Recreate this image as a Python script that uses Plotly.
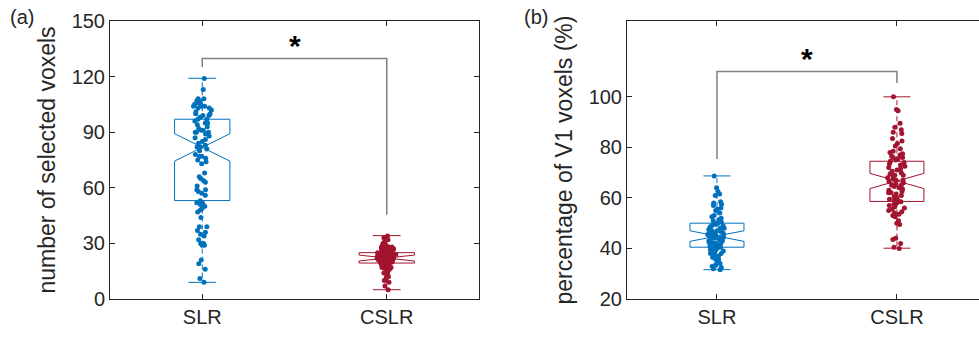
import plotly.graph_objects as go

categories = ["SLR", "CSLR"]
cat_pos = [1, 2]

# ---- panel (a): number of selected voxels ----
a_slr = [119, 113,
         108, 108, 107, 107, 106, 106, 105, 105, 104, 104, 104, 103, 103, 102, 101, 100, 100, 99, 99, 98,
         97, 97, 96, 95, 95, 94, 93, 92, 91, 91, 90, 90, 90, 89,
         88, 87, 86, 85, 84, 83, 82, 82, 81, 80,
         78, 77, 77, 76, 75, 74, 73,
         68, 66, 65, 64, 63,
         61, 59, 59, 58, 57,
         56, 53, 52, 52, 51, 51, 50, 49, 48, 47,
         44, 39, 39, 37, 36, 35, 34,
         32, 30, 30, 29, 29, 21, 19, 16, 11, 9]
a_cslr = [34, 33, 32, 31, 30, 30, 29, 29, 29, 28, 28, 28, 28, 27, 27, 27, 27, 27,
          26, 26, 26, 26, 26, 25, 25, 25, 25, 25, 25, 24, 24, 24, 24, 24, 24, 24,
          23, 23, 23, 23, 23, 23, 23, 22, 22, 22, 22, 22, 22, 22, 22,
          21, 21, 21, 21, 21, 21, 21, 20, 20, 20, 20, 20, 20, 19, 19, 19, 19, 19,
          18, 18, 18, 18, 17, 17, 17, 16, 16, 15, 14, 14, 13, 12, 12, 11, 10, 9, 7, 5]

# ---- panel (b): percentage of V1 voxels ----
b_slr = [68.7, 64, 62.5, 61.5, 61, 58.5, 58, 57.5, 57, 56, 55.5, 55, 54, 53, 52.5, 52, 51.5, 51,
         50.5, 50, 50, 49.5, 49, 49, 48.5, 48, 48, 47.5, 47.5, 47, 47, 46.5, 46.5, 46, 46, 46,
         45.5, 45.5, 45, 45, 45, 44.5, 44.5, 44, 44, 44, 43.5, 43.5, 43, 43, 42.5, 42.5, 42, 42, 42,
         41.5, 41, 41, 40.5, 40.5, 40, 40, 39.5, 39, 39, 38.5, 38, 38, 37.5, 37, 36.5, 36, 35.5,
         35, 34, 33.5, 33, 32.5, 32, 31.6]
b_cslr = [100, 95, 94.5, 89.5, 88, 87, 86, 85.5, 83.5, 82.5, 81.5, 80.5, 79.5, 78.5, 78, 77.5, 77,
          76.5, 76, 76, 75.5, 75, 74.5, 74, 73.5, 73, 72.5, 72, 71.5, 71, 70.5, 70, 69.5, 69, 69,
          68.5, 68, 67.5, 67, 67, 66.5, 66, 65.5, 65, 65, 64.5, 64, 63.5, 63, 62.5, 62, 62, 61.5,
          61, 60.5, 60, 59.5, 59, 59, 58.5, 58, 57.5, 57, 56.5, 56, 55.5, 55, 54.5, 54, 53.5, 53,
          52.5, 51, 50, 49.5, 44, 43.5, 42, 40.5, 40]

# box statistics, [SLR, CSLR]
a_q1 = [53.1, 19.4]
a_median = [81.8, 22.1]
a_q3 = [97.0, 25.0]
a_lower = [9.0, 5.0]
a_upper = [119.1, 34.2]
a_notch = [7.4, 1.6]

b_q1 = [40.5, 58.6]
b_median = [44.9, 66.7]
b_q3 = [50.0, 74.5]
b_lower = [31.6, 40.1]
b_upper = [68.7, 100.0]
b_notch = [2.1, 3.0]

# significance brackets: y of left foot, top, top, right foot
a_bracket = [125.2, 129.7, 129.7, 45.4]
b_bracket = [75.4, 110.0, 110.0, 105.5]
a_star_y = 137.0
b_star_y = 115.0

colors = ["#0072BD", "#A2142F"]
AXC = "#262626"
FONT = "Liberation Sans"
BOXW = 0.3
CAPW = 0.15

fig = go.Figure()


def add_panel(xa, ya, data, q1, med, q3, lo, up, notch, bracket, star_y):
    for i in range(2):
        c = colors[i]
        p = cat_pos[i]
        # notched box (whiskers drawn separately, dashed)
        fig.add_trace(go.Box(
            x=[p], q1=[q1[i]], median=[med[i]], q3=[q3[i]],
            lowerfence=[q1[i]], upperfence=[q3[i]], notchspan=[notch[i]],
            notched=True, notchwidth=0.5, width=BOXW, whiskerwidth=0,
            line=dict(color=c, width=1), fillcolor="rgba(0,0,0,0)",
            boxpoints=False, xaxis=xa, yaxis=ya, showlegend=False, hoverinfo="skip"))
        # whiskers
        fig.add_trace(go.Scatter(
            x=[p, p, None, p, p], y=[q3[i], up[i], None, q1[i], lo[i]],
            mode="lines", line=dict(color=c, width=1, dash="5px,3px"),
            xaxis=xa, yaxis=ya, showlegend=False, hoverinfo="skip"))
        # whisker caps
        fig.add_trace(go.Scatter(
            x=[p - CAPW / 2, p + CAPW / 2, None, p - CAPW / 2, p + CAPW / 2],
            y=[up[i], up[i], None, lo[i], lo[i]],
            mode="lines", line=dict(color=c, width=1),
            xaxis=xa, yaxis=ya, showlegend=False, hoverinfo="skip"))
        # jittered sample points
        fig.add_trace(go.Box(
            y=data[i], x0=p, width=BOXW, boxpoints="all", jitter=0.35, pointpos=0,
            line=dict(color="rgba(0,0,0,0)", width=0), fillcolor="rgba(0,0,0,0)",
            marker=dict(color=c, size=5), xaxis=xa, yaxis=ya, showlegend=False,
            hoverinfo="skip"))
    # bracket
    fig.add_trace(go.Scatter(
        x=[cat_pos[0], cat_pos[0], cat_pos[1], cat_pos[1]], y=bracket,
        mode="lines", line=dict(color="#808080", width=1.5),
        xaxis=xa, yaxis=ya, showlegend=False, hoverinfo="skip"))
    fig.add_annotation(x=(cat_pos[0] + cat_pos[1]) / 2, y=star_y, xref=xa, yref=ya,
                       text="<b>*</b>", showarrow=False, yanchor="middle",
                       font=dict(family=FONT, size=30, color="black"))


add_panel("x", "y", [a_slr, a_cslr], a_q1, a_median, a_q3, a_lower, a_upper, a_notch,
          a_bracket, a_star_y)
add_panel("x2", "y2", [b_slr, b_cslr], b_q1, b_median, b_q3, b_lower, b_upper, b_notch,
          b_bracket, b_star_y)

W, H = 979, 338
ydom = [(H - 299) / H, (H - 21) / H]
axis_common = dict(showline=True, linecolor=AXC, linewidth=1, ticks="inside", ticklen=5,
                   tickcolor=AXC, showgrid=False, zeroline=False, automargin=False,
                   tickfont=dict(family=FONT, size=20, color=AXC))

fig.update_layout(
    width=W, height=H, margin=dict(l=0, r=0, t=0, b=0, autoexpand=False),
    paper_bgcolor="white", plot_bgcolor="white", boxmode="overlay",
    font=dict(family=FONT, color=AXC),
    xaxis=dict(domain=[110 / W, 479 / W], range=[0.5, 2.5], tickvals=cat_pos,
               ticktext=categories, mirror="ticks", anchor="y", **axis_common),
    yaxis=dict(domain=ydom, range=[0, 150], tickvals=[0, 30, 60, 90, 120, 150],
               mirror="ticks", anchor="x",
               title=dict(text="number of selected voxels", standoff=9,
                          font=dict(family=FONT, size=23, color=AXC)),
               **axis_common),
    xaxis2=dict(domain=[627 / W, 1.0], range=[0.5, 2.456], tickvals=cat_pos,
                ticktext=categories, mirror="ticks", anchor="y2", **axis_common),
    yaxis2=dict(domain=ydom, range=[20, 130], tickvals=[20, 40, 60, 80, 100],
                mirror=False, anchor="x2",
                title=dict(text="percentage of V1 voxels (%)", standoff=9,
                           font=dict(family=FONT, size=23, color=AXC)),
                **axis_common),
)

fig.add_annotation(x=8 / W, y=1 - 17 / H, xref="paper", yref="paper", text="(a)",
                   showarrow=False, xanchor="left", yanchor="middle",
                   font=dict(family=FONT, size=20, color=AXC))
fig.add_annotation(x=522 / W, y=1 - 17 / H, xref="paper", yref="paper", text="(b)",
                   showarrow=False, xanchor="left", yanchor="middle",
                   font=dict(family=FONT, size=20, color=AXC))

fig.write_html("out.html")
